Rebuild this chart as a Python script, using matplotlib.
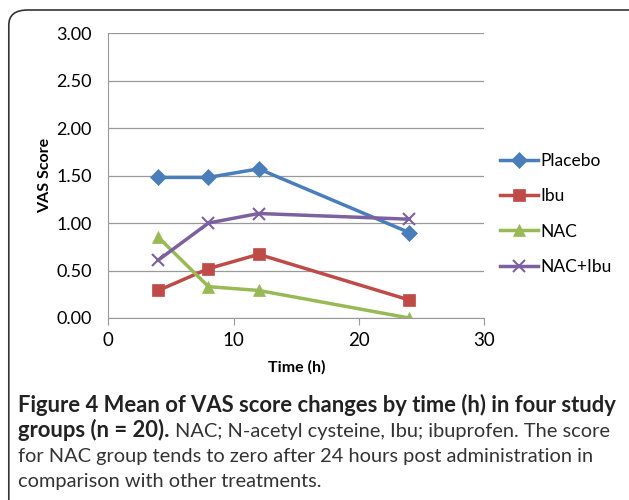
import matplotlib
matplotlib.use("Agg")
import matplotlib.pyplot as plt
from matplotlib.patches import FancyBboxPatch

plt.rcParams['font.family'] = ['Lato', 'DejaVu Sans']

# data
time_h = [4, 8, 12, 24]
placebo = [1.48, 1.48, 1.57, 0.90]
ibu = [0.29, 0.52, 0.67, 0.19]
nac = [0.85, 0.33, 0.29, 0.00]
nac_ibu = [0.61, 1.00, 1.10, 1.04]

series = [
    ("Placebo", placebo, "#4A7EBB", "D", 8),
    ("Ibu", ibu, "#BE4B48", "s", 9),
    ("NAC", nac, "#98B954", "^", 9),
    ("NAC+Ibu", nac_ibu, "#7D60A0", "x", 9),
]

fig = plt.figure(figsize=(6.29, 5.0), dpi=100)

# rounded frame around the figure
frame = FancyBboxPatch((0.014, -0.05), 1.05, 1.03, boxstyle="round,pad=0,rounding_size=0.03",
                       transform=fig.transFigure, fill=False, edgecolor="#333333", lw=1.2)
fig.patches.append(frame)

ax = fig.add_axes([0.172, 0.364, 0.598, 0.57])
for name, vals, col, mk, ms in series:
    ax.plot(time_h, vals, color=col, lw=2.5, marker=mk, markersize=ms,
            markeredgewidth=1.5 if mk == "x" else 0.5, label=name)

ax.set_xlim(0, 30)
ax.set_ylim(0, 3)
ax.set_xticks([0, 10, 20, 30])
ax.set_yticks([0, 0.5, 1, 1.5, 2, 2.5, 3])
ax.set_yticklabels(["%.2f" % v for v in ax.get_yticks()])
ax.grid(axis="y", color="#999999", lw=0.9)
ax.set_axisbelow(True)
for s in ["top", "right"]:
    ax.spines[s].set_visible(False)
ax.spines["left"].set_color("#999999")
ax.spines["bottom"].set_color("#999999")
ax.tick_params(axis="y", length=0, labelsize=13, pad=12)
ax.tick_params(axis="x", direction="out", length=5, color="#999999", labelsize=13.5, pad=5)
ax.set_xlabel("Time (h)", fontsize=11.5, fontweight="bold", labelpad=8)
ax.set_ylabel("VAS Score", fontsize=11.5, fontweight="bold", labelpad=3)

ax.legend(loc="center left", bbox_to_anchor=(1.0, 0.365), frameon=False, fontsize=12.5,
          handlelength=2.2, handletextpad=0.1, labelspacing=1.1)

# caption
fs_b = 15.8
fs_n = 14.4
fig.text(0.029, 0.176, "Figure 4 Mean of VAS score changes by time (h) in four study",
         fontsize=fs_b, fontweight="bold", color="#222222")
bold2 = fig.text(0.029, 0.126, "groups (n = 20).", fontsize=fs_b, fontweight="bold", color="#222222")
fig.canvas.draw()
ext = bold2.get_window_extent()
fig.text(ext.x1 / fig.bbox.width + 0.008, 0.126,
         "NAC; N-acetyl cysteine, Ibu; ibuprofen. The score",
         fontsize=fs_n, color="#333333")
fig.text(0.029, 0.076, "for NAC group tends to zero after 24 hours post administration in",
         fontsize=fs_n, color="#333333")
fig.text(0.029, 0.026, "comparison with other treatments.", fontsize=fs_n, color="#333333")

fig.savefig("out.png", dpi=100)
